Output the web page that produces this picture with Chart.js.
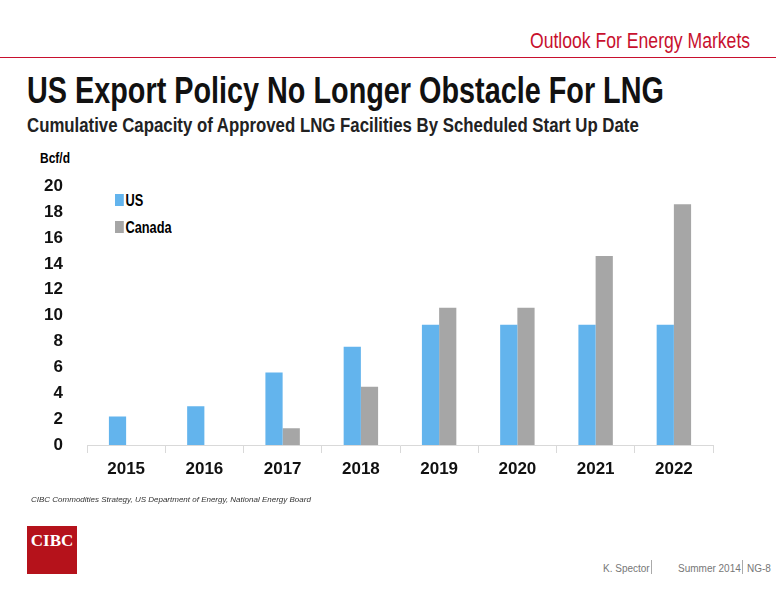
<!DOCTYPE html>
<html><head><meta charset="utf-8">
<script src="https://cdn.jsdelivr.net/npm/chart.js@4"></script>
<style>
body{margin:0;width:776px;height:600px;position:relative;background:#fff;font-family:"Liberation Sans",Arial,sans-serif;overflow:hidden}
.a{position:absolute;white-space:nowrap}
.n{transform:scaleX(0.8);transform-origin:left top}
</style></head><body>
<div class="a n" style="left:530px;top:28px;font-size:22px;color:#c8102e">Outlook For Energy Markets</div>
<div class="a" style="left:0;right:0;top:57px;height:1px;background:#c8102e"></div>
<div class="a n" style="left:27px;top:70px;font-size:36px;font-weight:bold;color:#111">US Export Policy No Longer Obstacle For LNG</div>
<div class="a n" style="left:27px;top:114px;font-size:20px;font-weight:bold;color:#222;transform:scaleX(0.84)">Cumulative Capacity of Approved LNG Facilities By Scheduled Start Up Date</div>
<div class="a n" style="left:40px;top:149px;font-size:15px;font-weight:bold">Bcf/d</div>
<div class="a n" style="left:115px;top:192px;font-size:16px;font-weight:bold"><span style="display:inline-block;width:11px;height:12px;background:#63b4ed;margin-right:2px"></span>US</div>
<div class="a n" style="left:115px;top:219px;font-size:16px;font-weight:bold"><span style="display:inline-block;width:11px;height:12px;background:#a6a6a6;margin-right:2px"></span>Canada</div>
<div class="a" style="left:0;top:160px;width:730px;height:340px"><canvas id="c"></canvas></div>
<div class="a" style="left:31px;top:495px;font-size:8px;font-style:italic;color:#333">CIBC Commodities Strategy, US Department of Energy, National Energy Board</div>
<div class="a" style="left:27px;top:526px;width:50px;height:48px;background:#b5121b;color:#fff;font-family:'Liberation Serif',serif;font-weight:bold;font-size:17px;text-align:center;line-height:30px">CIBC</div>
<div class="a" style="left:603px;top:563px;font-size:10px;color:#777">K. Spector</div>
<div class="a" style="left:651px;top:560px;width:1px;height:14px;background:#aaa"></div>
<div class="a" style="left:678px;top:563px;font-size:10px;color:#777">Summer 2014</div>
<div class="a" style="left:742px;top:560px;width:1px;height:14px;background:#aaa"></div>
<div class="a" style="left:747px;top:563px;font-size:10px;color:#777">NG-8</div>
<script>
const years = ['2015','2016','2017','2018','2019','2020','2021','2022'];
const usValues = [2.2, 3.0, 5.6, 7.6, 9.3, 9.3, 9.3, 9.3];
const canadaValues = [0, 0, 1.3, 4.5, 10.6, 10.6, 14.6, 18.6];
const yTicks = [0, 2, 4, 6, 8, 10, 12, 14, 16, 18, 20];

const tickFont = {family: '"Liberation Sans",Arial', size: 17, weight: 'bold'};

new Chart(document.getElementById('c'), {
  type: 'bar',
  data: {
    labels: years,
    datasets: [
      {label: 'US', data: usValues, backgroundColor: '#63b4ed'},
      {label: 'Canada', data: canadaValues, backgroundColor: '#a6a6a6'}
    ]
  },
  options: {
    responsive: true,
    maintainAspectRatio: false,
    animation: false,
    layout: {padding: {top: 4, right: 17}},
    datasets: {bar: {categoryPercentage: 0.44, barPercentage: 1}},
    plugins: {legend: {display: false}, tooltip: {enabled: false}},
    scales: {
      x: {
        afterFit: s => { s.height = 55; },
        grid: {offset: true, drawOnChartArea: false, tickLength: 8, color: '#d9d9d9'},
        border: {color: '#d9d9d9'},
        ticks: {color: '#111', font: tickFont, padding: 6}
      },
      y: {
        min: 0, max: 20,
        afterFit: s => { s.width = 87; },
        afterBuildTicks: s => { s.ticks = yTicks.map(v => ({value: v})); },
        grid: {display: false},
        border: {display: false},
        ticks: {color: '#111', font: tickFont, padding: 16, autoSkip: false}
      }
    }
  }
});
</script>
</body></html>
